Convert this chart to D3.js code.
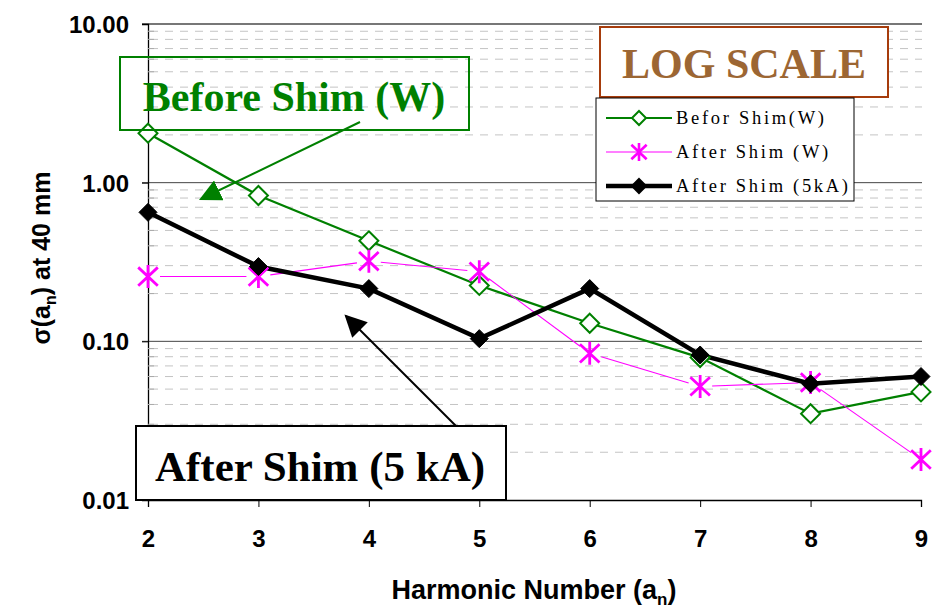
<!DOCTYPE html>
<html>
<head>
<meta charset="utf-8">
<script src="https://cdn.jsdelivr.net/npm/d3@7"></script>
<style>
  body { margin: 0; background: #fff; }
  svg { display: block; }
</style>
</head>
<body>
<div id="chart"></div>
<script>
const harmonics = [2, 3, 4, 5, 6, 7, 8, 9];
const beforeShimW = [2.05, 0.83, 0.43, 0.225, 0.13, 0.079, 0.035, 0.048];
const afterShimW = [0.256, 0.256, 0.32, 0.275, 0.084, 0.052, 0.055, 0.018];
const afterShim5kA = [0.65, 0.296, 0.215, 0.104, 0.215, 0.082, 0.054, 0.06];
const yTicks = [0.01, 0.1, 1, 10];

const width = 933, height = 613;
const svg = d3.select("#chart").append("svg")
    .attr("width", width)
    .attr("height", height);

const x = d3.scaleLinear().domain([2, 9]).range([148, 921]);
const y = d3.scaleLog().domain([0.01, 10]).range([500, 24]);

const sans = "Liberation Sans, Arial, sans-serif";
const serif = "Liberation Serif, Times New Roman, serif";

// minor gridlines (dashed)
const minor = [];
[0.01, 0.1, 1].forEach(d => {
    for (let k = 2; k <= 9; k++) minor.push(d * k);
});
svg.append("g").selectAll("line")
    .data(minor)
    .join("line")
    .attr("x1", 150).attr("x2", 922)
    .attr("y1", d => y(d)).attr("y2", d => y(d))
    .attr("stroke", "#c4c4c4")
    .attr("stroke-width", 1)
    .attr("stroke-dasharray", "8,7");

// major gridlines
svg.append("g").selectAll("line")
    .data([0.1, 1])
    .join("line")
    .attr("x1", 142).attr("x2", 922)
    .attr("y1", d => y(d)).attr("y2", d => y(d))
    .attr("stroke", "#444")
    .attr("stroke-width", 1);
svg.append("line")
    .attr("x1", 142).attr("x2", 922)
    .attr("y1", y(10)).attr("y2", y(10))
    .attr("stroke", "#777").attr("stroke-width", 2);

// y axis
const yAxis = svg.append("g")
    .attr("transform", "translate(148,0)")
    .call(d3.axisLeft(y).tickValues(yTicks).tickSize(6).tickFormat(d3.format(".2f")));
yAxis.select(".domain").attr("stroke", "#000").attr("stroke-width", 1.3);
yAxis.selectAll(".tick line").attr("stroke", "#000");
yAxis.selectAll(".tick text")
    .attr("x", -19)
    .attr("dy", "0.36em")
    .attr("font-family", sans)
    .attr("font-weight", "bold")
    .attr("font-size", 24)
    .attr("fill", "#000");
yAxis.append("g").selectAll("line")
    .data(minor)
    .join("line")
    .attr("x1", 0).attr("x2", 6)
    .attr("y1", d => y(d)).attr("y2", d => y(d))
    .attr("stroke", "#aaa");

// x axis
const xAxis = svg.append("g")
    .attr("transform", "translate(0,500)")
    .call(d3.axisBottom(x).tickValues(harmonics).tickSize(7).tickFormat(d3.format("d")));
xAxis.select(".domain").attr("stroke", "#000").attr("stroke-width", 1.3);
xAxis.selectAll(".tick line").attr("stroke", "#000");
xAxis.selectAll(".tick text")
    .attr("y", 30)
    .attr("font-family", sans)
    .attr("font-weight", "bold")
    .attr("font-size", 24)
    .attr("fill", "#000");

// axis titles
const xt = svg.append("text")
    .attr("x", 534).attr("y", 599)
    .attr("text-anchor", "middle")
    .attr("font-family", sans)
    .attr("font-weight", "bold")
    .attr("font-size", 27)
    .text("Harmonic Number (a");
xt.append("tspan").attr("font-size", 17).attr("dy", 6).text("n");
xt.append("tspan").attr("dy", -6).text(")");

const yt = svg.append("text")
    .attr("transform", "translate(50,258) rotate(-90)")
    .attr("text-anchor", "middle")
    .attr("font-family", sans)
    .attr("font-weight", "bold")
    .attr("font-size", 25)
    .text("σ(a");
yt.append("tspan").attr("font-size", 16).attr("dy", 6).text("n");
yt.append("tspan").attr("dy", -6).text(") at 40 mm");

// series
const pts = vals => harmonics.map((h, i) => [x(h), y(vals[i])]);

const line = d3.line();
svg.append("path")
    .attr("d", line(pts(beforeShimW)))
    .attr("fill", "none").attr("stroke", "#008000").attr("stroke-width", 2.2);

// magenta line drawn as trimmed segments
const mp = pts(afterShimW);
const gap = 12;
const segs = d3.pairs(mp).map(([a, b]) => {
    const dx = b[0] - a[0], dy = b[1] - a[1];
    const L = Math.hypot(dx, dy);
    const ux = dx / L, uy = dy / L;
    return [[a[0] + ux * gap, a[1] + uy * gap], [b[0] - ux * gap, b[1] - uy * gap]];
});
svg.append("g").selectAll("path")
    .data(segs)
    .join("path")
    .attr("d", d => line(d))
    .attr("stroke", "#ff00ff").attr("stroke-width", 1.1).attr("fill", "none");

svg.append("path")
    .attr("d", line(pts(afterShim5kA)))
    .attr("fill", "none").attr("stroke", "#000").attr("stroke-width", 4.5)
    .attr("stroke-linejoin", "miter");

// markers
const diamond = s => `M0,${-s}L${s},0L0,${s}L${-s},0Z`;
const asterisk = s => `M0,${-s}V${s}M${-s * 0.85},${-s * 0.8}L${s * 0.85},${s * 0.8}M${-s * 0.85},${s * 0.8}L${s * 0.85},${-s * 0.8}`;

function markers(vals, draw) {
    return svg.append("g").selectAll("path")
        .data(harmonics.map((h, i) => ({ h, v: vals[i] })))
        .join("path")
        .attr("transform", d => `translate(${x(d.h)},${y(d.v)})`)
        .call(draw);
}
markers(beforeShimW, s => s.attr("d", diamond(9.5))
    .attr("fill", "#fff").attr("stroke", "#008000").attr("stroke-width", 2));
markers(afterShimW, s => s.attr("d", asterisk(11.5))
    .attr("fill", "none").attr("stroke", "#ff00ff").attr("stroke-width", 2.8));
markers(afterShim5kA, s => s.attr("d", diamond(9))
    .attr("fill", "#000").attr("stroke", "#000").attr("stroke-width", 1));

// arrow heads
const defs = svg.append("defs");
defs.append("marker")
    .attr("id", "ag")
    .attr("viewBox", "0 0 20 20")
    .attr("refX", 18).attr("refY", 10)
    .attr("markerWidth", 22).attr("markerHeight", 22)
    .attr("markerUnits", "userSpaceOnUse")
    .attr("orient", "auto")
    .append("path").attr("d", "M0,0L20,10L0,20Z").attr("fill", "#008000");
defs.append("marker")
    .attr("id", "ak")
    .attr("viewBox", "0 0 20 20")
    .attr("refX", 18).attr("refY", 10)
    .attr("markerWidth", 24).attr("markerHeight", 22)
    .attr("markerUnits", "userSpaceOnUse")
    .attr("orient", "auto")
    .append("path").attr("d", "M0,0L20,10L0,20Z").attr("fill", "#000");

// annotation: Before Shim (W)
svg.append("line")
    .attr("x1", 360).attr("y1", 122).attr("x2", 201).attr("y2", 199)
    .attr("stroke", "#008000").attr("stroke-width", 2)
    .attr("marker-end", "url(#ag)");
svg.append("rect")
    .attr("x", 120).attr("y", 57).attr("width", 349).attr("height", 73)
    .attr("fill", "none").attr("stroke", "#008000").attr("stroke-width", 2);
svg.append("text")
    .attr("x", 294).attr("y", 111)
    .attr("text-anchor", "middle")
    .attr("font-family", serif)
    .attr("font-weight", "bold")
    .attr("font-size", 42)
    .attr("fill", "#008000")
    .text("Before Shim (W)");

// annotation: After Shim (5 kA)
svg.append("line")
    .attr("x1", 456).attr("y1", 426).attr("x2", 346).attr("y2", 316)
    .attr("stroke", "#000").attr("stroke-width", 2)
    .attr("marker-end", "url(#ak)");
svg.append("rect")
    .attr("x", 136).attr("y", 426).attr("width", 370).attr("height", 74)
    .attr("fill", "#fff").attr("stroke", "#000").attr("stroke-width", 2);
svg.append("text")
    .attr("x", 320).attr("y", 481)
    .attr("text-anchor", "middle")
    .attr("font-family", serif)
    .attr("font-weight", "bold")
    .attr("font-size", 43)
    .attr("fill", "#000")
    .text("After Shim (5 kA)");

// LOG SCALE box
svg.append("rect")
    .attr("x", 600).attr("y", 27).attr("width", 288).attr("height", 70)
    .attr("fill", "#fff").attr("stroke", "#a63c0c").attr("stroke-width", 2);
svg.append("text")
    .attr("x", 744).attr("y", 78)
    .attr("text-anchor", "middle")
    .attr("font-family", serif)
    .attr("font-weight", "bold")
    .attr("font-size", 42)
    .attr("fill", "#9c6633")
    .text("LOG SCALE");

// legend
const legendItems = [
    { label: "Befor Shim(W)", color: "#008000", width: 2.2, mark: "od" },
    { label: "After Shim (W)", color: "#ff00ff", width: 1.1, mark: "ast" },
    { label: "After Shim (5kA)", color: "#000", width: 4.5, mark: "fd" }
];
const legend = svg.append("g");
legend.append("rect")
    .attr("x", 596).attr("y", 98).attr("width", 258).attr("height", 103)
    .attr("fill", "#fff").attr("stroke", "#000").attr("stroke-width", 1);
const li = legend.selectAll("g.item")
    .data(legendItems)
    .join("g")
    .attr("class", "item")
    .attr("transform", (d, i) => `translate(0,${118 + i * 34})`);
li.append("line")
    .attr("x1", 606).attr("x2", 672)
    .attr("stroke", d => d.color)
    .attr("stroke-width", d => d.width);
li.append("path")
    .attr("transform", "translate(639,0)")
    .attr("d", d => d.mark === "ast" ? asterisk(9) : diamond(7))
    .attr("fill", d => d.mark === "od" ? "#fff" : d.mark === "fd" ? "#000" : "none")
    .attr("stroke", d => d.color)
    .attr("stroke-width", d => d.mark === "ast" ? 2.6 : 2);
li.append("text")
    .attr("x", 676).attr("y", 6)
    .attr("font-family", serif)
    .attr("font-size", 18.5)
    .attr("letter-spacing", 2.7)
    .attr("fill", "#000")
    .text(d => d.label);
</script>
</body>
</html>
